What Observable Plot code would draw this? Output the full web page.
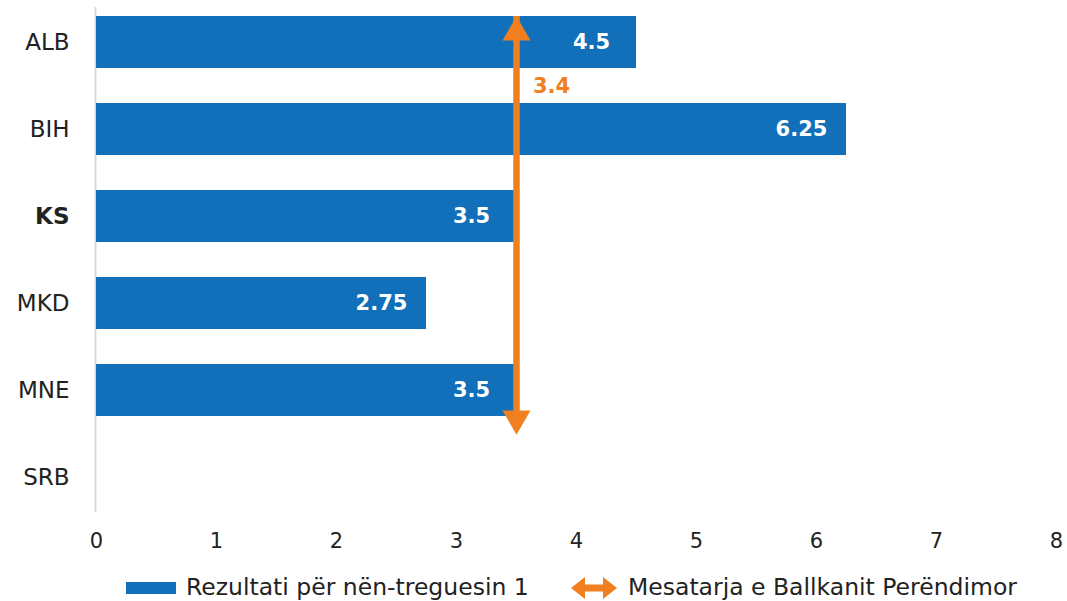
<!DOCTYPE html>
<html>
<head>
<meta charset="utf-8">
<script src="https://cdn.jsdelivr.net/npm/d3@7"></script>
<script src="https://cdn.jsdelivr.net/npm/@observablehq/plot@0.6"></script>
<style>
  body { margin: 0; background: #fff; font-family: "DejaVu Sans", sans-serif; }
  #legend { position: relative; height: 31px; font-size: 23.5px; color: #222; }
  #legend > * { position: absolute; }
</style>
</head>
<body>
<div id="chart"></div>
<div id="legend">
  <span style="left:126px;top:12px;width:50px;height:12px;background:#1170b9;"></span>
  <span style="left:186px;top:3px;line-height:28px;">Rezultati për nën-treguesin 1</span>
  <svg width="46" height="24" viewBox="0 0 46 24" style="left:571px;top:6px;">
    <polygon points="0,12 14,1 14,8.5 32,8.5 32,1 46,12 32,23 32,15.5 14,15.5 14,23" fill="#f0801f"/>
  </svg>
  <span style="left:628px;top:3px;line-height:28px;">Mesatarja e Ballkanit Perëndimor</span>
</div>
<script>
const countries = ["ALB", "BIH", "KS", "MKD", "MNE", "SRB"];
const values = [4.5, 6.25, 3.5, 2.75, 3.5, null];
const avgPosition = 3.5;
const avgLabel = "3.4";
const xTicks = [0, 1, 2, 3, 4, 5, 6, 7, 8];
const seriesName = "Rezultati për nën-treguesin 1";
const avgName = "Mesatarja e Ballkanit Perëndimor";

const data = countries.map((c, i) => ({country: c, value: values[i]})).filter(d => d.value != null);
const blue = "#1170b9";
const orange = "#f0801f";

const chart = Plot.plot({
  width: 1067,
  height: 570,
  marginLeft: 96,
  marginRight: 11,
  marginTop: 7,
  marginBottom: 58,
  style: {fontFamily: "DejaVu Sans, sans-serif", color: "#222", background: "#fff"},
  x: {domain: [0, 8], ticks: xTicks},
  y: {domain: countries, paddingInner: 0.4, paddingOuter: 0.1},
  marks: [
    Plot.ruleX([0], {stroke: "#d9d9d9", strokeWidth: 2, dx: -1}),
    Plot.barX(data, {x: "value", y: "country", fill: blue}),
    Plot.text(data, {x: "value", y: "country", text: d => String(d.value), fill: "white", fontWeight: "bold", fontSize: 21, textAnchor: "middle", dx: -45}),
    Plot.ruleX([avgPosition], {x: d => d, y1: () => "ALB", y2: () => "MNE", stroke: orange, strokeWidth: 6.5}),
    Plot.dot([avgPosition], {x: d => d, y: () => "ALB", symbol: "triangle", r: 10.4, fill: orange, stroke: null, dy: -10}),
    Plot.dot([avgPosition], {x: d => d, y: () => "MNE", symbol: "triangle", r: 10.4, fill: orange, stroke: null, rotate: 180, dy: 28}),
    Plot.text([avgLabel], {x: avgPosition, y: () => "ALB", text: d => d, fill: orange, fontWeight: "bold", fontSize: 21, textAnchor: "middle", dx: 35, dy: 44}),
    Plot.axisX({ticks: xTicks, tickSize: 0, tickPadding: 21, fontSize: 21, label: null, fill: "#222"}),
    Plot.axisY({tickSize: 0, tickPadding: 27, fontSize: 23, label: null, fill: "#222"})
  ]
});
d3.select(chart).selectAll("text").filter(function() { return this.textContent === "KS"; }).attr("font-weight", "bold");
document.getElementById("chart").appendChild(chart);
</script>
</body>
</html>
